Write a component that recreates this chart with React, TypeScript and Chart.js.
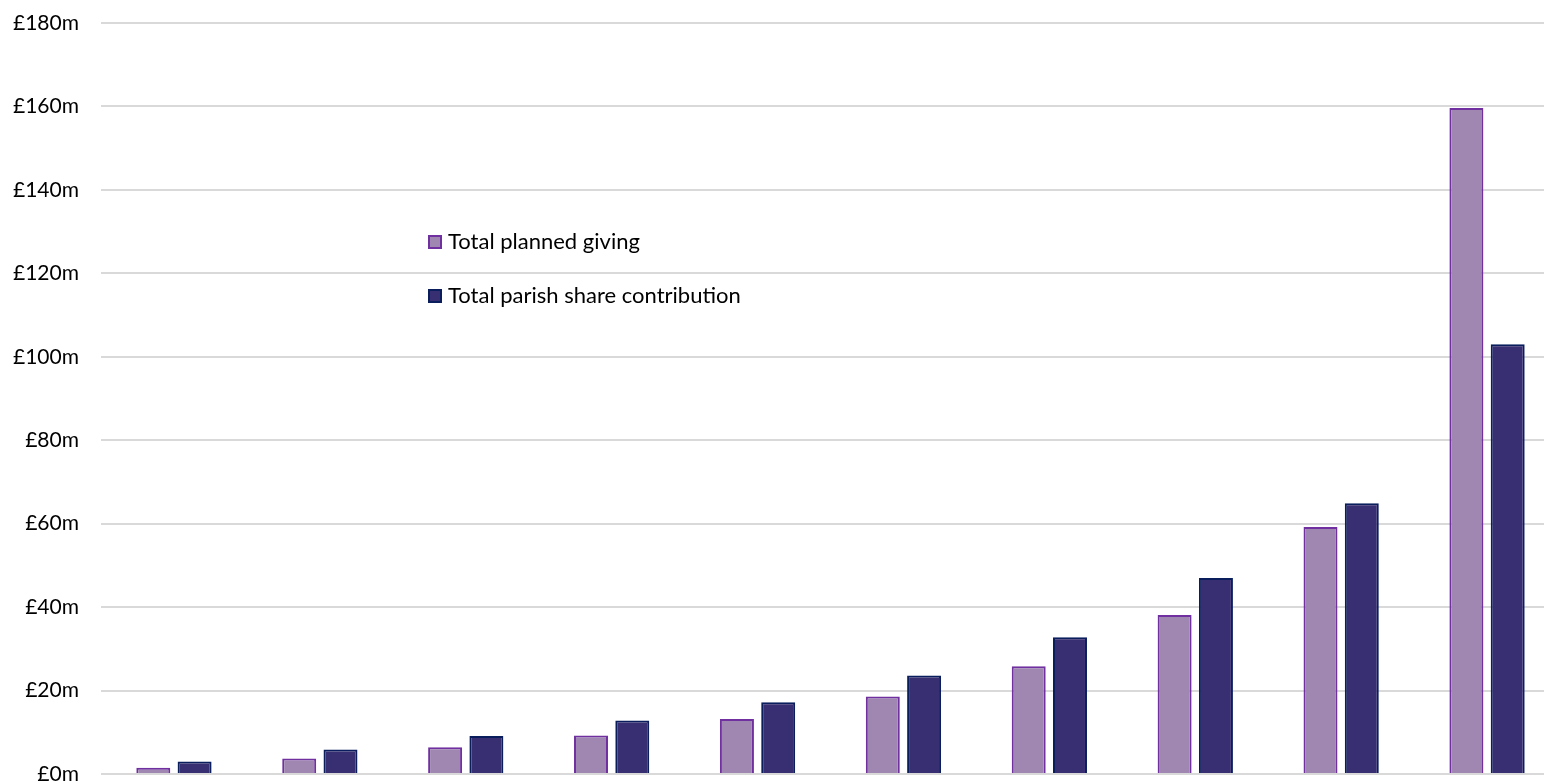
import React, { useEffect, useRef } from "react";
import { Chart, registerables } from "chart.js";

Chart.register(...registerables);

const categories = ["1", "2", "3", "4", "5", "6", "7", "8", "9", "10"];
const plannedGiving = [1.5, 3.7, 6.4, 9.2, 13.2, 18.6, 25.8, 38.1, 59.2, 159.6];
const parishShare = [3.0, 5.9, 9.1, 12.8, 17.2, 23.6, 32.8, 47.0, 64.9, 103.0];
const seriesLabels = ["Total planned giving", "Total parish share contribution"];

const FONT = "Lato, 'Open Sans', sans-serif";

const legendPlugin = {
  id: "insideLegend",
  afterDraw(chart: any) {
    const ctx = chart.ctx;
    ctx.save();
    chart.data.datasets.forEach((ds: any, i: number) => {
      const x = 428;
      const y = 235 + i * 54;
      ctx.fillStyle = ds.backgroundColor;
      ctx.fillRect(x, y, 14, 14);
      ctx.strokeStyle = ds.borderColor;
      ctx.lineWidth = 2;
      ctx.strokeRect(x + 1, y + 1, 12, 12);
      ctx.fillStyle = "#000000";
      ctx.font = `22px ${FONT}`;
      ctx.textAlign = "left";
      ctx.textBaseline = "middle";
      ctx.fillText(ds.label, 448, y + 7);
    });
    ctx.restore();
  },
};

export default function App() {
  const ref = useRef<HTMLCanvasElement | null>(null);

  useEffect(() => {
    document.body.style.margin = "0";
    document.body.style.overflow = "hidden";
    const canvas = ref.current!;
    const chart = new Chart(canvas, {
      type: "bar",
      data: {
        labels: categories,
        datasets: [
          {
            label: seriesLabels[0],
            data: plannedGiving,
            backgroundColor: "#A087B2",
            borderColor: "#7030A0",
            borderWidth: 2,
            categoryPercentage: 0.566,
            barPercentage: 0.823,
          },
          {
            label: seriesLabels[1],
            data: parishShare,
            backgroundColor: "#382E72",
            borderColor: "#0A1E5E",
            borderWidth: 2,
            categoryPercentage: 0.566,
            barPercentage: 0.823,
          },
        ],
      },
      options: {
        responsive: false,
        animation: false,
        layout: { padding: { top: 23, bottom: 10, left: 0, right: 0 } },
        plugins: {
          legend: { display: false },
          tooltip: { enabled: false },
          title: { display: false },
        },
        scales: {
          x: {
            ticks: { display: false },
            grid: { display: false, drawTicks: false },
            border: { display: false },
            afterFit: (scale: any) => {
              scale.height = 0;
              scale.paddingLeft = 0;
              scale.paddingRight = 0;
            },
          },
          y: {
            min: 0,
            max: 180,
            ticks: {
              stepSize: 20,
              padding: 22,
              color: "#000000",
              font: { family: FONT, size: 21 },
              callback: (v: any) => "£" + v + "m",
            },
            grid: { color: "#D9D9D9", lineWidth: 2, drawTicks: false },
            border: { display: false },
            afterFit: (scale: any) => {
              scale.width = 101;
              scale.paddingTop = 0;
              scale.paddingBottom = 0;
            },
          },
        },
      },
      plugins: [legendPlugin],
    });
    return () => chart.destroy();
  }, []);

  return (
    <div
      style={{
        position: "fixed",
        left: 0,
        top: 0,
        width: 1544,
        height: 784,
        overflow: "hidden",
        background: "#ffffff",
      }}
    >
      <canvas ref={ref} width={1560} height={784} style={{ width: 1560, height: 784, display: "block" }} />
    </div>
  );
}
